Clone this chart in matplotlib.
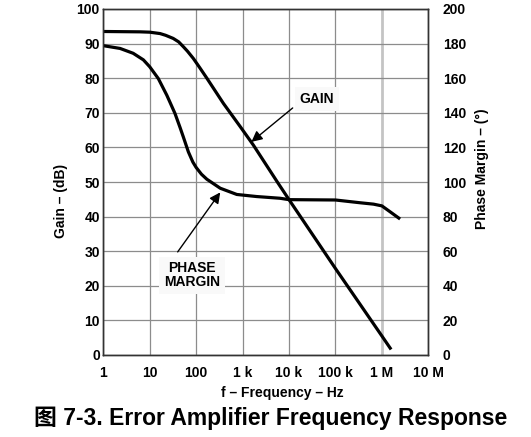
import matplotlib
matplotlib.use("Agg")
import matplotlib.pyplot as plt
from matplotlib.ticker import FixedLocator, NullLocator

plt.rcParams['font.family'] = ['Liberation Sans', 'Noto Sans CJK SC', 'DejaVu Sans']
plt.rcParams['font.weight'] = 'bold'
plt.rcParams['axes.labelweight'] = 'bold'

# gain curve (Hz, dB)
gain_f = [1, 6.2, 10, 16.7, 22, 32, 42, 53, 65, 87, 120, 170, 387, 890, 1700,
          3000, 5600, 10e3, 100e3, 1e6, 1.58e6]
gain_db = [93.5, 93.4, 93.3, 92.9, 92.4, 91.5, 90.5, 89.1, 87.8, 85.7, 83.0, 80.0,
           72.7, 66.0, 60.7, 55.6, 50.0, 44.9, 25.0, 5.5, 1.6]

# phase margin curve (Hz, degrees)
phase_f = [1, 2.3, 4.4, 7.3, 10, 15.3, 23.3, 27.4, 35, 45, 53, 68, 85, 100, 130,
           170, 330, 750, 2000, 6400, 10e3, 100e3, 340e3, 660e3, 1e6, 1.5e6, 2.47e6]
phase_deg = [178.8, 177.2, 174.4, 170.6, 166.6, 159.8, 150.2, 146.0, 139.6, 131.5,
             126.0, 117.4, 111.5, 108.4, 104.5, 101.6, 96.4, 92.8, 91.6, 90.6, 89.8,
             89.6, 88.0, 87.2, 86.2, 82.8, 78.6]

x_ticks = [1, 10, 100, 1e3, 1e4, 1e5, 1e6, 1e7]
x_labels = ['1', '10', '100', '1 k', '10 k', '100 k', '1 M', '10 M']
gain_ticks = list(range(0, 101, 10))
phase_ticks = list(range(0, 201, 20))

fig = plt.figure(figsize=(5.31, 4.37), dpi=100)
ax = fig.add_axes([103.3 / 531, 82 / 437, 325 / 531, 346 / 437])
ax2 = ax.twinx()

ax.set_xscale('log')
ax.set_xlim(1, 1e7)
ax.set_ylim(0, 100)
ax2.set_ylim(0, 200)

ax.xaxis.set_major_locator(FixedLocator(x_ticks))
ax.xaxis.set_minor_locator(NullLocator())
ax.set_xticklabels(x_labels)
ax.set_yticks(gain_ticks)
ax2.set_yticks(phase_ticks)

ax.grid(True, color='#8c8c8c', lw=0.9)
ax.get_xgridlines()[6].set_color('#c4c4c4')
ax.get_xgridlines()[6].set_linewidth(2.0)
ax.set_axisbelow(True)
ax.tick_params(axis='both', length=0, labelsize=10)
ax.tick_params(axis='x', pad=8)
ax.tick_params(axis='y', pad=2.5)
ax2.tick_params(axis='y', length=0, labelsize=10, pad=10.5)

for a in (ax, ax2):
    for s in a.spines.values():
        s.set_color('#333333')
        s.set_linewidth(1.0)

ax.plot(gain_f, gain_db, color='black', lw=2.3, solid_capstyle='butt')
ax2.plot(phase_f, phase_deg, color='black', lw=2.3, solid_capstyle='butt')

ax.set_ylabel('Gain \u2013 (dB)', fontsize=10)
ax.yaxis.set_label_coords(-0.109, 0.445)
ax2.set_ylabel('Phase Margin \u2013 (\u00b0)', fontsize=10)
ax2.yaxis.set_label_coords(1.144, 0.538)
ax.set_xlabel('f \u2013 Frequency \u2013 Hz', fontsize=10)
ax.xaxis.set_label_coords(0.55, -0.09)

arrow = dict(arrowstyle='-|>', color='black', lw=1.0, mutation_scale=16,
             shrinkA=0, shrinkB=0)
box = dict(boxstyle='square,pad=0.35', fc='#f9f9f9', ec='none')
ax.annotate('', xy=(1550, 61.6), xytext=(12e3, 71.4), arrowprops=arrow)
ax.text(40e3, 74, 'GAIN', ha='center', va='center', fontsize=10, bbox=box)
ax.annotate('', xy=(330, 47.0), xytext=(40, 29.8), arrowprops=arrow)
ax.text(80, 23, 'PHASE\nMARGIN', ha='center', va='center', fontsize=10,
        linespacing=1.0, bbox=box)

fig.text(271 / 531, 1 - 418 / 437, '\u56fe 7-3. Error Amplifier Frequency Response',
         ha='center', va='center', fontsize=16.5, fontweight='bold')

fig.savefig('out.png', dpi=100)
